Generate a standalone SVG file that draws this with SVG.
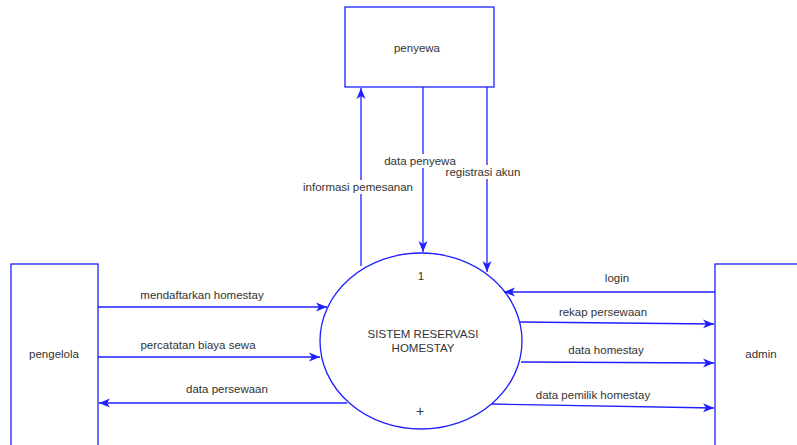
<svg xmlns="http://www.w3.org/2000/svg" width="797" height="445" viewBox="0 0 797 445">
<style>
.box{fill:#fff;stroke:#1f1fff;stroke-width:1.3}
.ln{fill:none;stroke:#1f1fff;stroke-width:1.3;marker-end:url(#ah)}
.t{font-family:"Liberation Sans",Arial,sans-serif;font-size:11.5px;fill:#333;text-anchor:middle}
.bg{fill:#fff}
</style>
<defs>
<marker id="ah" markerUnits="userSpaceOnUse" markerWidth="12" markerHeight="10" viewBox="0 0 12 10" refX="11" refY="5" orient="auto">
<path d="M0,0.5 L11,5 L0,9.5 L3,5 Z" fill="#1f1fff"/>
</marker>
</defs>
<rect width="797" height="445" fill="#fff"/>
<g id="penyewa"><rect class="box" x="345" y="7" width="149" height="80"/><text class="t" x="417" y="52">penyewa</text></g>
<g id="pengelola"><rect class="box" x="11" y="264" width="87" height="190"/><text class="t" x="54" y="358">pengelola</text></g>
<g id="admin"><rect class="box" x="715" y="264" width="100" height="190"/><text class="t" x="761" y="358">admin</text></g>
<g id="proses"><ellipse class="box" cx="421" cy="341" rx="101" ry="88"/>
<text class="t" x="421" y="280">1</text>
<text class="t" x="423" y="338">SISTEM RESERVASI</text>
<text class="t" x="423" y="352">HOMESTAY</text>
<text class="t" x="420" y="416" style="font-size:14px">+</text></g>
<g id="connectors">
<path class="ln" d="M361,266 L361,88"/>
<path class="ln" d="M423,87 L423,252"/>
<path class="ln" d="M487,87 L487,272"/>
<path class="ln" d="M98,307 L327,307"/>
<path class="ln" d="M98,357 L320,357"/>
<path class="ln" d="M347,403 L99,403"/>
<path class="ln" d="M715,292 L504,292"/>
<path class="ln" d="M520,322 L714,324"/>
<path class="ln" d="M521,362 L714,363"/>
<path class="ln" d="M492,404 L714,408"/>
<rect class="bg" x="384" y="154" width="72" height="14"/>
<rect class="bg" x="443" y="165" width="80" height="14"/>
<rect class="bg" x="303" y="180" width="111" height="14"/>
<text class="t" x="420" y="165">data penyewa</text>
<text class="t" x="483" y="176">registrasi akun</text>
<text class="t" x="358" y="191">informasi pemesanan</text>
<text class="t" x="202" y="299">mendaftarkan homestay</text>
<text class="t" x="198" y="349">percatatan biaya sewa</text>
<text class="t" x="227" y="393">data persewaan</text>
<text class="t" x="617" y="282">login</text>
<text class="t" x="603" y="316">rekap persewaan</text>
<text class="t" x="606" y="354">data homestay</text>
<text class="t" x="593" y="399">data pemilik homestay</text>
</g>
</svg>
